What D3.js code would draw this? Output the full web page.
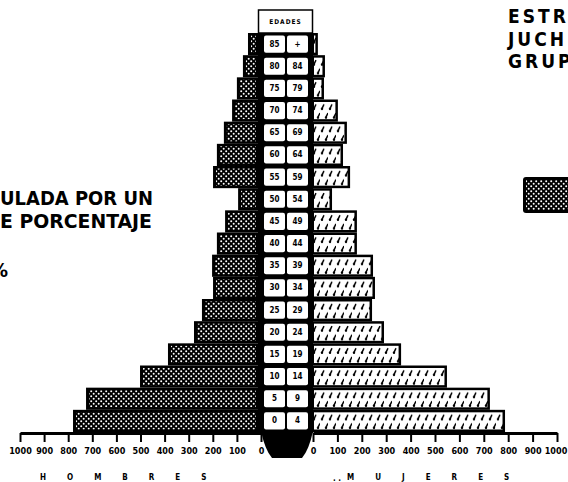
<!DOCTYPE html>
<html lang="es">
<head>
<meta charset="UTF-8">
<title>Estructura por edades</title>
<script src="https://d3js.org/d3.v7.min.js"></script>
<style>
  html, body { margin: 0; padding: 0; background: #fff; }
  svg { display: block; }
  text { font-family: "Liberation Sans Narrow", "DejaVu Sans Condensed", "Liberation Sans", sans-serif; font-weight: bold; fill: #000; }
  .axis .domain { stroke: #000; stroke-width: 3px; }
  .axis .tick line { stroke: #000; stroke-width: 2px; }
  .axis .tick text { font-size: 9px; }
  .lbl { font-size: 8px; text-anchor: middle; dominant-baseline: central; }
</style>
</head>
<body>
<svg width="568" height="482"></svg>
<script>
// grupos de edad, de abajo hacia arriba
const edadInicio = ["0","5","10","15","20","25","30","35","40","45","50","55","60","65","70","75","80","85"];
const edadFin    = ["4","9","14","19","24","29","34","39","44","49","54","59","64","69","74","79","84","+"];
const hombres = [780, 726, 502, 386, 278, 245, 199, 203, 183, 149, 95, 199, 183, 154, 120, 100, 75, 54];
const mujeres = [787, 725, 549, 361, 291, 242, 254, 246, 180, 180, 78, 152, 123, 139, 102, 45, 49, 20];
const ticks = [0, 100, 200, 300, 400, 500, 600, 700, 800, 900, 1000];

const svg = d3.select("svg");

const y  = d3.scaleBand().domain(edadInicio).range([432, 33]).padding(0);
const xH = d3.scaleLinear().domain([0, 1000]).range([261, 20]);
const xM = d3.scaleLinear().domain([0, 1000]).range([313, 557]);
const bh = y.bandwidth();

// patterns
const defs = svg.append("defs");
const dots = defs.append("pattern").attr("id", "dots")
  .attr("patternUnits", "userSpaceOnUse").attr("width", 5).attr("height", 5);
dots.append("rect").attr("width", 5).attr("height", 5).attr("fill", "#000");
dots.append("circle").attr("cx", 1.2).attr("cy", 1.2).attr("r", 1).attr("fill", "#fff");
dots.append("circle").attr("cx", 3.7).attr("cy", 3.7).attr("r", 1).attr("fill", "#fff");

const slash = defs.append("pattern").attr("id", "slash")
  .attr("patternUnits", "userSpaceOnUse").attr("x", 0).attr("y", 33)
  .attr("width", 8).attr("height", bh);
slash.append("rect").attr("width", 8).attr("height", bh).attr("fill", "#fff");
slash.append("path").attr("d", "M1.5,10 L4,5 M5.5,18.5 L8,13.5")
  .attr("stroke", "#000").attr("stroke-width", 1.5).attr("fill", "none");
slash.append("circle").attr("cx", 2).attr("cy", 9.5).attr("r", 1.2).attr("fill", "#000");
slash.append("circle").attr("cx", 6).attr("cy", 18).attr("r", 1.2).attr("fill", "#000");

// columna central
svg.append("rect").attr("x", 258).attr("y", 33).attr("width", 55).attr("height", 400).attr("fill", "#000");

// hombres
const gH = svg.append("g");
gH.selectAll("rect.out").data(hombres).join("rect").attr("class", "out")
  .attr("x", d => xH(d)).attr("y", (d, i) => y(edadInicio[i]))
  .attr("width", d => xH(0) - xH(d)).attr("height", bh).attr("fill", "#000");
gH.selectAll("rect.in").data(hombres).join("rect").attr("class", "in")
  .attr("x", d => xH(d) + 3).attr("y", (d, i) => y(edadInicio[i]) + 2.5)
  .attr("width", d => Math.max(0, 256 - xH(d) - 3)).attr("height", bh - 5).attr("fill", "url(#dots)");

// mujeres
const gM = svg.append("g");
gM.selectAll("rect.out").data(mujeres).join("rect").attr("class", "out")
  .attr("x", xM(0) - 3).attr("y", (d, i) => y(edadInicio[i]))
  .attr("width", d => xM(d) - xM(0) + 3).attr("height", bh).attr("fill", "#000");
gM.selectAll("rect.in").data(mujeres).join("rect").attr("class", "in")
  .attr("x", xM(0) + 1).attr("y", (d, i) => y(edadInicio[i]) + 2.5)
  .attr("width", d => Math.max(0, xM(d) - xM(0) - 3.5)).attr("height", bh - 5).attr("fill", "url(#slash)");

// etiquetas de edad
const gE = svg.append("g");
[[264, edadInicio], [287, edadFin]].forEach(([x0, labels]) => {
  gE.selectAll(null).data(labels).join("rect")
    .attr("x", x0).attr("y", (d, i) => y(edadInicio[i]) + 2.5)
    .attr("width", 21).attr("height", bh - 5).attr("rx", 2).attr("fill", "#fff");
  gE.selectAll(null).data(labels).join("text").attr("class", "lbl")
    .attr("x", x0 + 10.5).attr("y", (d, i) => y(edadInicio[i]) + bh / 2)
    .text(d => d);
});

// cabecera EDADES
svg.append("rect").attr("x", 258.5).attr("y", 10).attr("width", 54).attr("height", 23)
  .attr("fill", "#fff").attr("stroke", "#000").attr("stroke-width", 1.5);
svg.append("text").attr("x", 285.5).attr("y", 22).attr("text-anchor", "middle")
  .attr("dominant-baseline", "central").attr("font-size", 6.5).attr("letter-spacing", 1).text("EDADES");

// ejes
svg.append("g").attr("class", "axis").attr("transform", "translate(0,433)")
  .call(d3.axisBottom(xH).tickValues(ticks).tickSize(9).tickSizeOuter(0).tickPadding(6).tickFormat(d3.format("d")));
svg.append("g").attr("class", "axis").attr("transform", "translate(0,433)")
  .call(d3.axisBottom(xM).tickValues(ticks).tickSize(9).tickSizeOuter(0).tickPadding(6).tickFormat(d3.format("d")));
svg.selectAll(".axis .tick text").filter(d => d === 1000).attr("dx", function () {
  return this.parentNode.parentNode === svg.selectAll(".axis").nodes()[1] ? -1.5 : 0;
});

// pieza negra central
svg.append("path")
  .attr("d", `M${xH(0)},431 L${xM(0)},431 Q${xM(0) - 4},450 ${xM(0) - 11},458 L${xH(0) + 11},458 Q${xH(0) + 4},450 ${xH(0)},431 Z`)
  .attr("fill", "#000");

// rótulos de sexo
svg.append("text").attr("x", 40).attr("y", 480).attr("font-size", 8).attr("letter-spacing", 21).text("HOMBRES");
svg.append("text").attr("x", 333).attr("y", 481).attr("font-size", 8).text(". .");
svg.append("text").attr("x", 347).attr("y", 480).attr("font-size", 8).attr("letter-spacing", 21).text("MUJERES");

// textos recortados a la izquierda
svg.append("text").attr("x", 0).attr("y", 205).attr("font-size", 19)
  .attr("textLength", 153).attr("lengthAdjust", "spacingAndGlyphs").text("ULADA POR UN");
svg.append("text").attr("x", 0).attr("y", 228).attr("font-size", 19)
  .attr("textLength", 152).attr("lengthAdjust", "spacingAndGlyphs").text("E PORCENTAJE");
svg.append("text").attr("x", -10).attr("y", 277).attr("font-size", 20).text("%");

// título recortado a la derecha
const titulo = ["ESTR", "JUCH", "GRUP"];
svg.selectAll("text.tit").data(titulo).join("text").attr("class", "tit")
  .attr("x", 508).attr("y", (d, i) => 23 + i * 22.5).attr("font-size", 19).attr("letter-spacing", 3).text(d => d);

// leyenda
svg.append("rect").attr("x", 523).attr("y", 177).attr("width", 60).attr("height", 36).attr("rx", 3).attr("fill", "#000");
svg.append("rect").attr("x", 526).attr("y", 180).attr("width", 50).attr("height", 30).attr("fill", "url(#dots)");
</script>
</body>
</html>
